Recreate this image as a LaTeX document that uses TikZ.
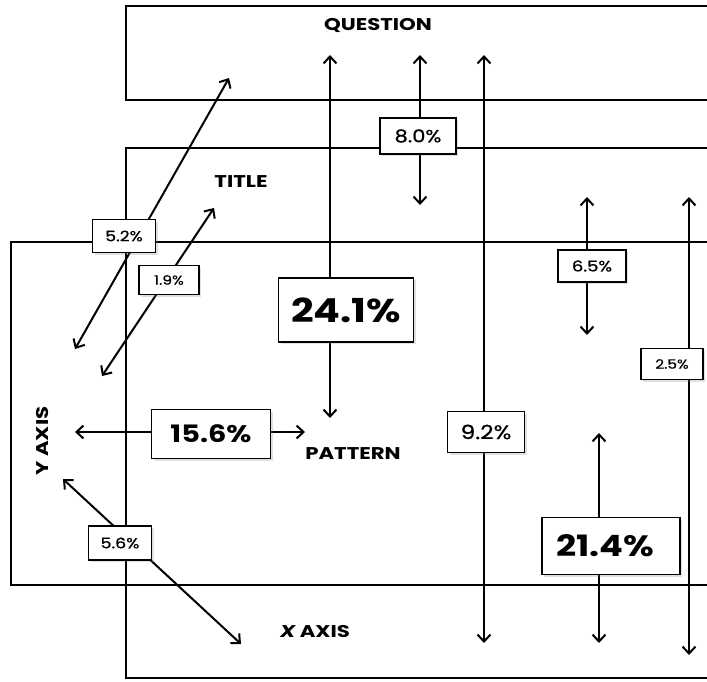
\documentclass[tikz,border=0pt]{standalone}
\usepackage{fontspec}
\setmainfont{Poppins}
\newfontfamily\labfont[FakeStretch=1.25]{Poppins}
\newfontfamily\pctfont[FakeStretch=1.2,FakeBold=0.8]{Poppins}
\newfontfamily\bigfont[FakeStretch=1.2]{Poppins}
\usetikzlibrary{arrows.meta,shadows}
\begin{document}
\begin{tikzpicture}[x=1pt,y=-1pt,
  frame/.style={line width=2pt},
  dbl/.style={line width=2pt,{Straight Barb[length=7pt,width=13pt]}-{Straight Barb[length=7pt,width=13pt]}},
  pct/.style={draw,line width=1.8pt,fill=white,inner sep=0pt,
    drop shadow={shadow xshift=2pt,shadow yshift=-2pt,opacity=0.25}},
  lbl/.style={font=\labfont\fontsize{17}{20}\selectfont\bfseries}]
\useasboundingbox (0,0) rectangle (707,681);
% frames
\draw[frame] (707,6) -- (126,6) -- (126,100) -- (707,100);
\draw[frame] (707,148) -- (126,148) -- (126,678) -- (707,678);
\draw[frame] (707,242) -- (11,242) -- (11,585) -- (707,585);
% labels
\node[lbl] (q) at (378,25) {QUESTION};
\node[lbl] (t) at (241,182) {TITLE};
\node[lbl] (p) at (353,454) {PATTERN};
\node[lbl,rotate=90] (ya) at (43,441) {Y AXIS};
\node[lbl] (xa) at (315,631) {\itshape X\upshape\ AXIS};
% arrow ends
\coordinate (a24t) at (330,55);  \coordinate (a24b) at (330,418);
\coordinate (a80t) at (420,55);  \coordinate (a80b) at (420,205);
\coordinate (a92t) at (484,55);  \coordinate (a92b) at (484,643);
\coordinate (a65t) at (587,197); \coordinate (a65b) at (587,335);
\coordinate (a25t) at (689,197); \coordinate (a25b) at (689,655);
\coordinate (a214t) at (599,433); \coordinate (a214b) at (599,643);
\coordinate (a156l) at (75,432); \coordinate (a156r) at (305,432);
\coordinate (a52a) at (75,349);  \coordinate (a52b) at (229,78);
\coordinate (a19a) at (102,376); \coordinate (a19b) at (214,208);
\coordinate (a56a) at (63,479);  \coordinate (a56b) at (241,644);
% arrows
\draw[dbl] (a24t) -- (a24b);
\draw[dbl] (a80t) -- (a80b);
\draw[dbl] (a92t) -- (a92b);
\draw[dbl] (a65t) -- (a65b);
\draw[dbl] (a25t) -- (a25b);
\draw[dbl] (a214t) -- (a214b);
\draw[dbl] (a156l) -- (a156r);
\draw[dbl] (a52a) -- (a52b);
\draw[dbl] (a19a) -- (a19b);
\draw[dbl] (a56a) -- (a56b);
% percentage boxes
\node[pct,minimum width=135pt,minimum height=64pt,font=\bigfont\fontsize{33}{36}\selectfont\bfseries] (p241) at (346,310) {24.1\%};
\node[pct,minimum width=76pt,minimum height=36pt,font=\pctfont\fontsize{17.5}{20}\selectfont] (p80) at (418,136) {8.0\%};
\node[pct,minimum width=77pt,minimum height=41pt,font=\pctfont\fontsize{19.5}{22}\selectfont] (p92) at (486,432) {9.2\%};
\node[pct,minimum width=68pt,minimum height=32pt,font=\pctfont\fontsize{15}{18}\selectfont] (p65) at (592,266) {6.5\%};
\node[pct,minimum width=62pt,minimum height=31pt,font=\pctfont\fontsize{12.8}{15}\selectfont] (p25) at (672,364) {2.5\%};
\node[pct,minimum width=138pt,minimum height=57pt,font=\bigfont\fontsize{29.4}{33}\selectfont\bfseries] (p214) at (611,546) {21.4\%\hspace*{12pt}};
\node[pct,minimum width=119pt,minimum height=49pt,font=\bigfont\fontsize{24}{28}\selectfont\bfseries] (p156) at (211,434) {15.6\%};
\node[pct,minimum width=63pt,minimum height=33pt,font=\pctfont\fontsize{14.4}{17}\selectfont] (p52) at (124,236) {5.2\%};
\node[pct,minimum width=60pt,minimum height=29pt,font=\pctfont\fontsize{12.9}{15}\selectfont] (p19) at (169,280) {1.9\%};
\node[pct,minimum width=63pt,minimum height=34pt,font=\pctfont\fontsize{14.5}{17}\selectfont] (p56) at (120,543) {5.6\%};
\end{tikzpicture}
\end{document}
